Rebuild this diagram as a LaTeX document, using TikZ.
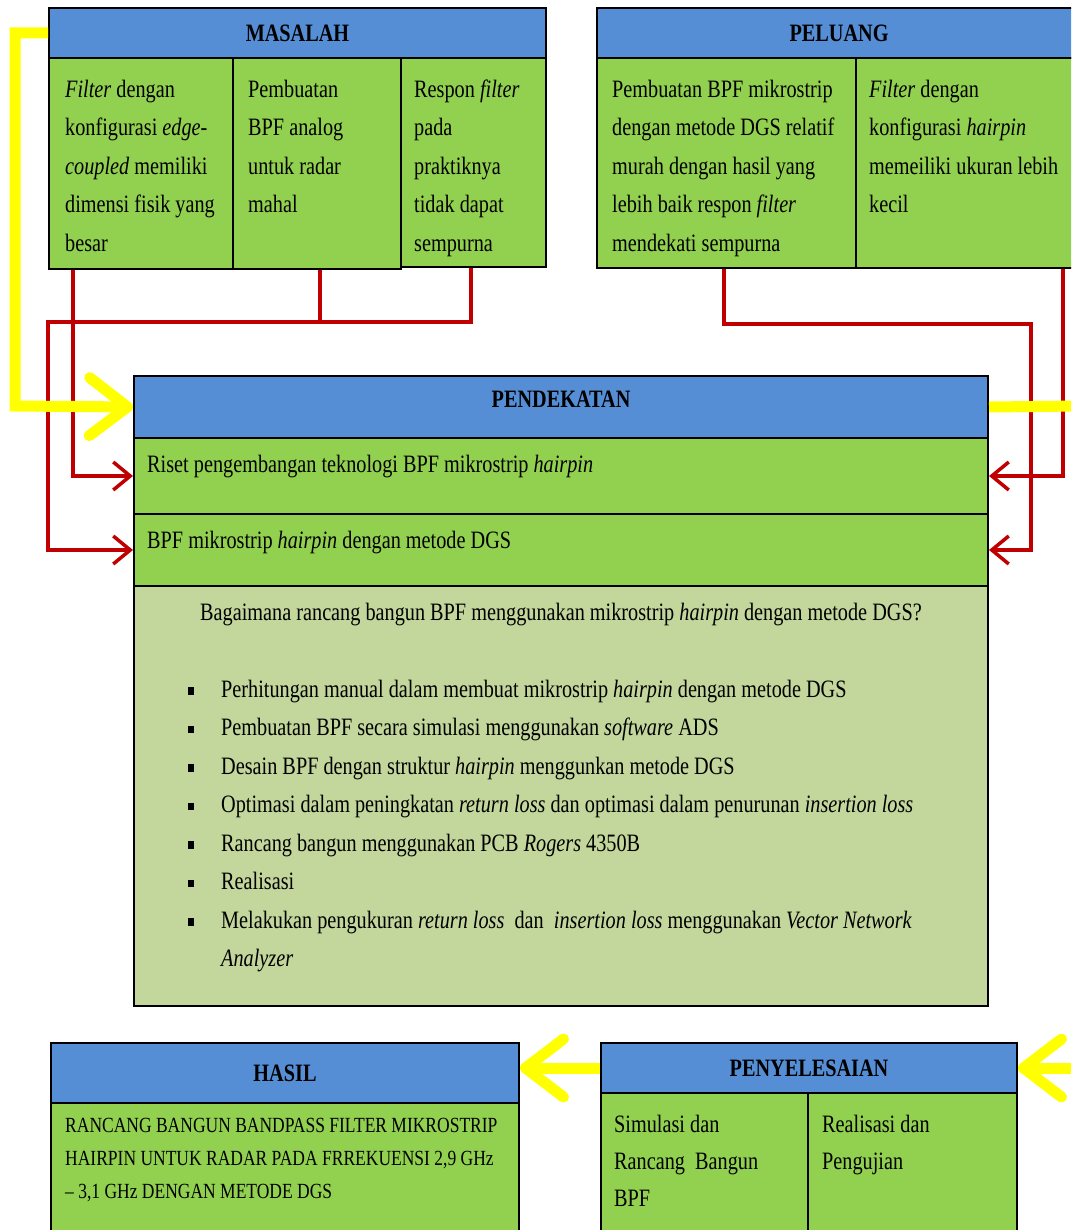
\documentclass[tikz,border=0pt]{standalone}
\usepackage{fontspec}
\setmainfont{Liberation Serif}[FakeStretch=0.81]
\usetikzlibrary{arrows.meta,positioning}

\definecolor{kkblue}{HTML}{558ED5}
\definecolor{kkgreen}{HTML}{92D050}
\definecolor{kkpale}{HTML}{C3D69B}
\definecolor{kkred}{HTML}{C00000}
\definecolor{kkyellow}{HTML}{FFFF00}

\newcommand\kkbullet{\hangindent=33pt\hangafter=1\noindent\makebox[33pt][l]{\rule[2.5pt]{5.5pt}{7.5pt}}}

\begin{document}
\begin{tikzpicture}[
  kkhead/.style    = {draw, line width=2pt, fill=kkblue, anchor=north west, inner sep=0pt, font=\fontsize{25}{27}\selectfont\bfseries},
  kkcell/.style    = {draw, line width=2pt, fill=kkgreen, anchor=north west, inner sep=0pt},
  kkquest/.style   = {kkcell, fill=kkpale},
  kktext/.style    = {anchor=north west, inner sep=0pt, align=flush left, font=\fontsize{25}{38.5}\selectfont, execute at begin node=\strut},
  kksmall/.style   = {kktext, font=\fontsize{21.6}{33}\selectfont},
  kklink/.style    = {draw=kkred, line width=3.5pt},
  kkarrow/.style   = {kklink, -{Straight Barb[length=17pt,width=28pt]}},
  kkflow/.style    = {draw=kkyellow, line width=11pt},
  kkflowarr/.style = {kkflow, -{Straight Barb[length=38pt,width=58pt,round]}},
  x=1pt, y=-1pt,
]

  \path[use as bounding box, fill=white] (0,0) rectangle (1071,1230);
  \clip (0,0) rectangle (1071,1230);

  % masalah
  \node[kkhead, minimum width=497pt, minimum height=50pt] (mashdr) at (48,7) {MASALAH};
  \node[kkcell, minimum width=184pt, minimum height=211pt] (mas1) at (48,57) {};
  \node[kkcell, minimum width=168pt, minimum height=211pt] (mas2) at (232,57) {};
  \node[kkcell, minimum width=145pt, minimum height=209pt] (mas3) at (400,57) {};
  \node[kktext, text width=165pt, below right=13pt and 17pt of mas1.north west] (mas1txt) {\emph{Filter} dengan\\konfigurasi \emph{edge-}\\\emph{coupled} memiliki\\dimensi fisik yang\\besar};
  \node[kktext, text width=150pt, below right=13pt and 16pt of mas2.north west] (mas2txt) {Pembuatan\\BPF analog\\untuk radar\\mahal};
  \node[kktext, text width=128pt, below right=13pt and 14pt of mas3.north west] (mas3txt) {Respon \emph{filter}\\pada\\praktiknya\\tidak dapat\\sempurna};

  % peluang
  \node[kkhead, minimum width=484pt, minimum height=50pt] (pelhdr) at (596,7) {PELUANG};
  \node[kkcell, minimum width=259pt, minimum height=210pt] (pel1) at (596,57) {};
  \node[kkcell, minimum width=230pt, minimum height=210pt] (pel2) at (855,57) {};
  \node[kktext, text width=240pt, below right=13pt and 16pt of pel1.north west] (pel1txt) {Pembuatan BPF mikrostrip\\dengan metode DGS relatif\\murah dengan hasil yang\\lebih baik respon \emph{filter}\\mendekati sempurna};
  \node[kktext, text width=200pt, below right=13pt and 14pt of pel2.north west] (pel2txt) {\emph{Filter} dengan\\konfigurasi \emph{hairpin}\\memeiliki ukuran lebih\\kecil};

  % pendekatan
  \node[kkhead, minimum width=854pt, minimum height=62pt, text depth=16pt] (pdkhdr) at (133,375) {PENDEKATAN};
  \node[kkcell, minimum width=854pt, minimum height=76pt] (pdk1) at (133,437) {};
  \node[kkcell, minimum width=854pt, minimum height=72pt] (pdk2) at (133,513) {};
  \node[kkquest, minimum width=854pt, minimum height=420pt] (pdk3) at (133,585) {};
  \node[kktext, below right=8pt and 14pt of pdk1.north west] (pdk1txt) {Riset pengembangan teknologi BPF mikrostrip \emph{hairpin}};
  \node[kktext, below right=8pt and 14pt of pdk2.north west] (pdk2txt) {BPF mikrostrip \emph{hairpin} dengan metode DGS};
  \node[kktext, align=center, below=8pt of pdk3.north] (pdkq) {Bagaimana rancang bangun BPF menggunakan mikrostrip \emph{hairpin} dengan metode DGS?};
  \node[kktext, text width=780pt, below right=85pt and 55pt of pdk3.north west] (pdklist) {%
    \kkbullet Perhitungan manual dalam membuat mikrostrip \emph{hairpin} dengan metode DGS\par
    \kkbullet Pembuatan BPF secara simulasi menggunakan \emph{software} ADS\par
    \kkbullet Desain BPF dengan struktur \emph{hairpin} menggunkan metode DGS\par
    \kkbullet Optimasi dalam peningkatan \emph{return loss} dan optimasi dalam penurunan \emph{insertion loss}\par
    \kkbullet Rancang bangun menggunakan PCB \emph{Rogers} 4350B\par
    \kkbullet Realisasi\par
    \kkbullet Melakukan pengukuran \emph{return loss}\ \ dan\ \ \emph{insertion loss} menggunakan \emph{Vector Network}\par
    \noindent\hspace*{33pt}\emph{Analyzer}};

  % hasil
  \node[kkhead, minimum width=468pt, minimum height=60pt] (hslhdr) at (50,1042) {HASIL};
  \node[kkcell, minimum width=468pt, minimum height=150pt] (hsl1) at (50,1102) {};
  \node[kksmall, text width=450pt, below right=7pt and 15pt of hsl1.north west] (hsl1txt) {RANCANG BANGUN BANDPASS FILTER MIKROSTRIP\\HAIRPIN UNTUK RADAR PADA FRREKUENSI 2,9 GHz\\-- 3,1 GHz DENGAN METODE DGS};

  % penyelesaian
  \node[kkhead, minimum width=416pt, minimum height=50pt] (pnyhdr) at (600,1042) {PENYELESAIAN};
  \node[kkcell, minimum width=207pt, minimum height=150pt] (pny1) at (600,1092) {};
  \node[kkcell, minimum width=209pt, minimum height=150pt] (pny2) at (807,1092) {};
  \node[kktext, text width=190pt, font=\fontsize{25}{37}\selectfont, below right=14pt and 14pt of pny1.north west] (pny1txt) {Simulasi dan\\Rancang\ \ Bangun\\BPF};
  \node[kktext, text width=190pt, font=\fontsize{25}{37}\selectfont, below right=14pt and 15pt of pny2.north west] (pny2txt) {Realisasi dan\\Pengujian};

  % red links
  \coordinate (mjoin) at (48,322);
  \coordinate (pjoin) at (1031,324);
  \draw[kkarrow] ([xshift=25pt]mas1.south west) |- (pdk1.west);
  \draw[kklink] ([xshift=88pt]mas2.south west) |- (mjoin);
  \draw[kkarrow] ([xshift=71pt]mas3.south west) |- (mjoin) |- (pdk2.west);
  \draw[kkarrow] ([xshift=128pt]pel1.south west) |- (pjoin) |- (pdk2.east);
  \draw[kkarrow] ([xshift=208pt]pel2.south west) |- (pdk1.east);

  % yellow flow
  \coordinate (yleft) at (15,406);
  \coordinate (yright) at (1080,406);
  \coordinate (yin) at (1080,1068);
  \draw[kkflowarr] (mashdr.west) -| (yleft) -- (pdkhdr.west);
  \draw[kkflow] (pdkhdr.east) -- (yright);
  \draw[kkflowarr] (yin) -- (pnyhdr.east);
  \draw[kkflowarr] (pnyhdr.west) -- (pnyhdr.west -| hslhdr.east);
\end{tikzpicture}
\end{document}
